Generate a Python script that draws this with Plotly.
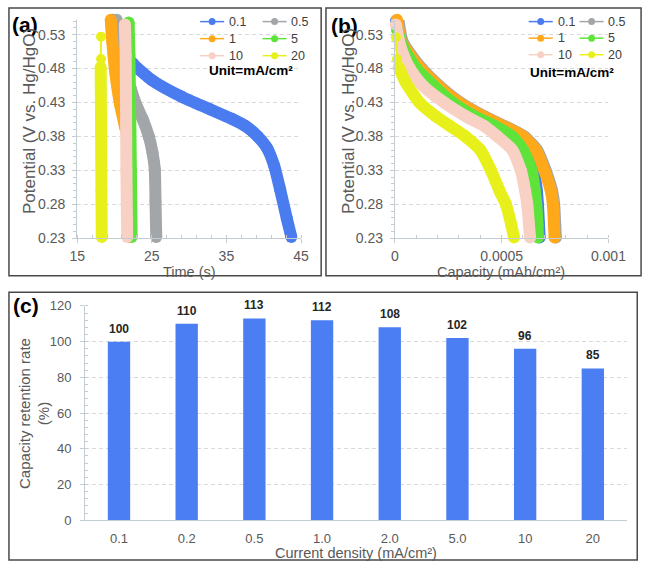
import plotly.graph_objects as go

W, H = 661, 571
FONT = "Arial, 'Liberation Sans', Helvetica, sans-serif"

# ---------------- data ----------------
series_names = ["0.1", "0.5", "1", "5", "10", "20"]

# Panel (a): time (s) vs potential (V vs. Hg/HgO)
a_time_0_1 = [19.7, 20.3, 21.0, 22.5, 25.0, 28.9, 32.8, 35.7, 37.6, 39.2, 40.5, 41.4, 42.2, 43.1, 43.7]
a_pot_0_1 = [0.552, 0.530, 0.508, 0.487, 0.463, 0.439, 0.420, 0.406, 0.395, 0.380, 0.362, 0.337, 0.302, 0.259, 0.232]
a_time_0_5 = [20.3, 20.5, 21.0, 21.5, 22.2, 22.9, 23.8, 24.6, 25.1, 25.4, 25.5, 25.6]
a_pot_0_5 = [0.552, 0.523, 0.495, 0.475, 0.450, 0.427, 0.405, 0.380, 0.356, 0.332, 0.284, 0.232]
a_time_1 = [19.5, 19.7, 20.1, 20.75, 21.4, 21.8, 21.9, 21.95, 22.0]
a_pot_1 = [0.552, 0.520, 0.475, 0.427, 0.395, 0.376, 0.340, 0.290, 0.232]
a_time_5 = [21.9, 22.0, 22.1, 22.2, 22.3]
a_pot_5 = [0.548, 0.500, 0.420, 0.330, 0.232]
a_time_10 = [21.4, 21.5, 21.55, 21.6, 21.7]
a_pot_10 = [0.545, 0.500, 0.420, 0.330, 0.232]
a_time_20 = [18.2, 18.2, 18.15, 18.2, 18.25, 18.3]
a_pot_20 = [0.527, 0.494, 0.482, 0.400, 0.300, 0.232]

# Panel (b): capacity (mAh/cm2) vs potential
b_cap_0_1 = [0.000005, 0.00003, 0.00006, 0.00011, 0.00019, 0.00029, 0.0004, 0.0005, 0.00058, 0.00062, 0.00065, 0.000665, 0.00067, 0.000675, 0.000678]
b_pot_0_1 = [0.550, 0.520, 0.500, 0.480, 0.455, 0.430, 0.410, 0.395, 0.380, 0.360, 0.330, 0.300, 0.280, 0.250, 0.231]
b_cap_0_5 = [0.000016, 0.000036, 0.000076, 0.000126, 0.000206, 0.000306, 0.000416, 0.000516, 0.000606, 0.000666, 0.000706, 0.000736, 0.000746, 0.000751, 0.000754]
b_pot_0_5 = [0.553, 0.520, 0.500, 0.480, 0.455, 0.430, 0.410, 0.395, 0.380, 0.360, 0.330, 0.300, 0.280, 0.250, 0.231]
b_cap_1 = [0.00001, 0.00003, 0.00007, 0.00012, 0.0002, 0.0003, 0.00041, 0.00051, 0.0006, 0.00066, 0.0007, 0.00073, 0.00074, 0.000745, 0.000748]
b_pot_1 = [0.552, 0.520, 0.500, 0.480, 0.455, 0.430, 0.410, 0.395, 0.380, 0.360, 0.330, 0.300, 0.280, 0.250, 0.231]
b_cap_5 = [0.00001, 0.00004, 0.0001, 0.00018, 0.00027, 0.00037, 0.00047, 0.00055, 0.0006, 0.00064, 0.000655, 0.000662, 0.000668, 0.00067]
b_pot_5 = [0.537, 0.510, 0.480, 0.455, 0.430, 0.410, 0.395, 0.380, 0.360, 0.330, 0.300, 0.280, 0.250, 0.231]
b_cap_10 = [0.000004, 0.00002, 0.00004, 0.00007, 0.00013, 0.00023, 0.00033, 0.00042, 0.00048, 0.00055, 0.00059, 0.00061, 0.00062, 0.000628, 0.000633]
b_pot_10 = [0.545, 0.520, 0.500, 0.480, 0.455, 0.430, 0.410, 0.395, 0.380, 0.360, 0.330, 0.300, 0.280, 0.250, 0.231]
b_cap_20 = [0.000005, 0.00001, 0.000018, 0.00005, 0.000115, 0.00019, 0.00026, 0.00033, 0.0004, 0.00045, 0.00049, 0.00052, 0.000545, 0.000558]
b_pot_20 = [0.526, 0.494, 0.482, 0.460, 0.430, 0.410, 0.395, 0.380, 0.360, 0.330, 0.300, 0.280, 0.250, 0.231]

# Panel (c): capacity retention
current_density = ["0.1", "0.2", "0.5", "1.0", "2.0", "5.0", "10", "20"]
retention_rate = [100, 110, 113, 112, 108, 102, 96, 85]

# tick labels
pot_ticks = [0.23, 0.28, 0.33, 0.38, 0.43, 0.48, 0.53]
time_ticks = [15, 25, 35, 45]
cap_ticks = [0, 0.0005, 0.001]
cap_ticktext = ["0", "0.0005", "0.001"]
ret_ticks = [0, 20, 40, 60, 80, 100, 120]

# ---------------- style ----------------
colors = ["#4a7cf0", "#a3a6a9", "#ffa91a", "#5ee33a", "#f8d1c4", "#e8f01c"]
head_points = [0, 0, 0, 0, 0, 2]   # sparse leading points drawn with a thin line

a_x = [a_time_0_1, a_time_0_5, a_time_1, a_time_5, a_time_10, a_time_20]
a_y = [a_pot_0_1, a_pot_0_5, a_pot_1, a_pot_5, a_pot_10, a_pot_20]
b_x = [b_cap_0_1, b_cap_0_5, b_cap_1, b_cap_5, b_cap_10, b_cap_20]
b_y = [b_pot_0_1, b_pot_0_5, b_pot_1, b_pot_5, b_pot_10, b_pot_20]

TXT = "#595959"
AXL = "#c3ccd0"
GRID = "#d9d9d9"
BAND = 12


def fx(p):
    return p / W


def fy(p):
    return 1 - p / H


fig = go.Figure()

# curves
for xs_all, ys_all, xa, ya in [(a_x, a_y, "x", "y"), (b_x, b_y, "x2", "y2")]:
    for i in range(len(series_names)):
        xs, ys, h = xs_all[i], ys_all[i], head_points[i]
        if h:
            fig.add_trace(go.Scatter(
                x=xs[:h + 1], y=ys[:h + 1], mode="lines+markers",
                line=dict(color=colors[i], width=2),
                marker=dict(color=colors[i], size=10),
                showlegend=False, cliponaxis=False, xaxis=xa, yaxis=ya, hoverinfo="skip"))
        fig.add_trace(go.Scatter(
            x=xs[h:], y=ys[h:], mode="lines+markers", name=series_names[i],
            line=dict(color=colors[i], width=BAND, shape="spline", smoothing=0.6),
            marker=dict(color=colors[i], size=BAND),
            showlegend=False, cliponaxis=False, xaxis=xa, yaxis=ya))

# bars
fig.add_trace(go.Bar(
    x=current_density, y=retention_rate, marker=dict(color="#4a7ef2", line=dict(width=0)),
    xaxis="x3", yaxis="y3", showlegend=False))

tickfont_ab = dict(family=FONT, size=14, color=TXT)
tickfont_c = dict(family=FONT, size=13, color=TXT)

yaxis_common = dict(
    range=[0.23, 0.552], tickvals=pot_ticks, ticktext=[f"{v:.2f}" for v in pot_ticks],
    showgrid=True, gridcolor=GRID, griddash="4px,3px", gridwidth=1,
    showline=True, linecolor=AXL, linewidth=1, ticks="outside", ticklen=4, tickcolor=AXL,
    minor=dict(dtick=0.01, tick0=0.23, ticks="outside", ticklen=3, tickcolor=AXL, showgrid=False),
    zeroline=False, tickfont=tickfont_ab, ticklabelstandoff=4)

xaxis_common = dict(
    showgrid=False, showline=True, linecolor=AXL, linewidth=1, ticks="outside", ticklen=4,
    tickcolor=AXL, zeroline=False, tickfont=tickfont_ab, ticklabelstandoff=1)

yd_ab = [fy(237.5), fy(13)]
fig.update_layout(
    width=W, height=H, margin=dict(l=0, r=0, t=0, b=0),
    paper_bgcolor="white", plot_bgcolor="white",
    font=dict(family=FONT, color=TXT),
    bargap=0.67, showlegend=False,
    xaxis=dict(xaxis_common, domain=[fx(72), fx(305)], range=[15, 45], tickvals=time_ticks,
               minor=dict(dtick=2, tick0=15, ticks="inside", ticklen=3, tickcolor=AXL), anchor="y"),
    yaxis=dict(yaxis_common, domain=yd_ab, anchor="x"),
    xaxis2=dict(xaxis_common, domain=[fx(402.7), fx(625)], range=[0, 0.001], tickvals=cap_ticks,
                ticktext=cap_ticktext,
                minor=dict(dtick=0.0001, tick0=0, ticks="inside", ticklen=3, tickcolor=AXL), anchor="y2"),
    yaxis2=dict(yaxis_common, domain=yd_ab, anchor="x2"),
    xaxis3=dict(domain=[fx(80.3), fx(644)], type="category", range=[-0.5, 7.5], showgrid=False,
                showline=True, linecolor=AXL, linewidth=1, ticks="", tickfont=tickfont_c,
                ticklabelstandoff=6, anchor="y3"),
    yaxis3=dict(domain=[fy(527), fy(307)], range=[0, 120], tickvals=ret_ticks,
                showgrid=True, gridcolor=GRID, griddash="4px,3px", showline=True, linecolor=AXL,
                ticks="outside", ticklen=4, tickcolor=AXL, zeroline=False, tickfont=tickfont_c,
                minor=dict(dtick=4, ticks="inside", ticklen=3, tickcolor=AXL, showgrid=False),
                ticklabelstandoff=6, anchor="x3"),
)

annotations = []
shapes = []


def ann(text, x, y, size, bold=False, color=TXT, angle=0, xanchor="center"):
    annotations.append(dict(
        text=f"<b>{text}</b>" if bold else text, x=fx(x), y=fy(y), xref="paper", yref="paper",
        showarrow=False, xanchor=xanchor, yanchor="middle", textangle=angle,
        font=dict(family=FONT, size=size, color=color)))


# legends (two columns x three rows per panel), drawn as key line + dot + label
legend_layouts = [
    dict(cols=[200, 265], rows=[15, 32.5, 50], unit=(253, 65)),
    dict(cols=[542, 595], rows=[15, 32, 49], unit=(587, 67)),
]
KEY = 25
for lay in legend_layouts:
    for i, nm in enumerate(series_names):
        x0 = lay["cols"][i % 2]
        yc = lay["rows"][i // 2]
        shapes.append(dict(type="line", xref="paper", yref="paper",
                           x0=fx(x0), x1=fx(x0 + KEY), y0=fy(yc), y1=fy(yc),
                           line=dict(color=colors[i], width=1.5)))
        r = 3.6
        shapes.append(dict(type="circle", xref="paper", yref="paper",
                           x0=fx(x0 + KEY / 2 - r), x1=fx(x0 + KEY / 2 + r),
                           y0=fy(yc + r), y1=fy(yc - r),
                           fillcolor=colors[i], line=dict(color=colors[i], width=0)))
        ann(nm, x0 + KEY + 3, yc, 12.5, color="#404040", xanchor="left")
    ann("Unit=mA/cm²", lay["unit"][0], lay["unit"][1], 13.5, bold=True, color="#000000")

# panel labels
ann("(a)", 2, 18, 21, bold=True, color="#000000", xanchor="left")
ann("(b)", 334, 19, 21, bold=True, color="#000000", xanchor="left")
ann("(c)", 3, 307, 21, bold=True, color="#000000", xanchor="left")
# axis titles
ann("Time (s)", 189, 272.5, 14.5)
ann("Capacity (mAh/cm²)", 513, 272.5, 14.5)
ann("Potential (V vs. Hg/HgO)", 23, 117, 17, angle=-90)
ann("Potential (V vs. Hg/HgO)", 355, 117, 17, angle=-90)
ann("Current density (mA/cm²)", 362, 561, 14.5)
ann("Capacity retention rate<br>(%)", 27, 417, 15, angle=-90)

# bar value labels
for k, v in enumerate(retention_rate):
    annotations.append(dict(
        text=f"<b>{v}</b>", x=k, y=v, xref="x3", yref="y3", showarrow=False,
        yanchor="bottom", yshift=4, font=dict(family=FONT, size=12, color="#262626")))

# panel frames
frames = [(1, 1, 326, 276), (331, 1, 659, 276), (1, 293, 655, 568)]
for a, b, c, d in frames:
    shapes.append(dict(type="rect", xref="paper", yref="paper", x0=fx(a), x1=fx(c), y0=fy(d), y1=fy(b),
                       line=dict(color="#4a4a4a", width=1.5), fillcolor="rgba(0,0,0,0)", layer="above"))

fig.update_layout(annotations=annotations, shapes=shapes)

fig.write_html("out.html")
